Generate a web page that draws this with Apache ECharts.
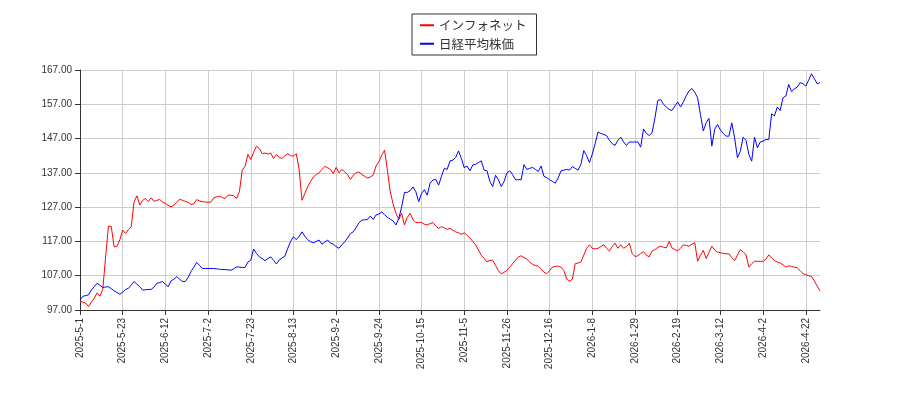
<!DOCTYPE html>
<html><head><meta charset="utf-8">
<script src="https://cdn.jsdelivr.net/npm/echarts@6/dist/echarts.min.js"></script>
<style>html,body{margin:0;padding:0;background:#fff}#c{width:900px;height:400px}</style>
</head><body><div id="c"></div>
<script>
const tickLabels = ["2025-5-1","2025-5-23","2025-6-12","2025-7-2","2025-7-23","2025-8-13","2025-9-2","2025-9-24","2025-10-15","2025-11-5","2025-11-26","2025-12-16","2026-1-8","2026-1-29","2026-2-19","2026-3-12","2026-4-2","2026-4-22"];
const infonet = [
99.7,99.3,99,98,99.3,100.4,102,101,103,112.5,121.5,121.3,115.4,115.6,117.5,
120.3,119.3,120.5,121.3,128.6,130.3,127.6,129,129.5,128.6,129.7,128.7,129,129.2,128.5,
128.1,127.5,127.1,127.6,128.5,129.3,129,128.7,128.4,127.8,128,129.2,128.8,128.6,128.5,
128.4,128.5,129.7,130,130.2,129.8,129.5,130.5,130.5,130.3,129.5,131.5,137.8,138.9,142.4,
140.9,143,144.8,144.1,142.6,142.8,142.5,142.8,141.2,142.3,141.5,141.2,142,142.6,142,
141.9,142.6,138,129,131,133,134.5,135.8,136.5,137,138,138.9,138.5,138,136.8,
138.6,137,138,137.3,136.5,135.1,136.3,137,137.3,136.5,136,135.5,135.8,136.3,139,
140.2,142.1,143.6,137.8,131.5,128,125.2,123.4,125.2,121.8,124,125.2,123.3,122.5,122.5,
122.5,122,121.8,122.2,122.5,121.5,120.8,121.3,121,120.5,120.8,120.3,119.8,119.5,119.1,
119.5,118.8,118,117,116,114.5,113,112,111,111.5,111.5,110,108.5,107.5,108,
108.5,109.5,110.5,111.5,112.5,112.8,112.3,111.8,111,110.3,110,109.8,109,108,107.6,
108.5,109.5,109.7,109.8,109.5,108.5,106,105.4,106,110.5,110.7,111,113,115,116,
115,114.8,115,115.5,116,115,114.2,115.5,116.5,115,116,115,115.5,116.5,113.5,
112.6,112.8,113.5,114,113,112.5,114.2,114.6,115.3,115.6,115.3,115.1,117,115.1,114.6,
114.3,115,116,115.8,115.6,116.2,116.6,111.2,113,114.4,112,113.8,115.6,114.5,113.9,
113.7,113.5,113.4,113.4,112.3,111.4,113,114.6,114,113.1,109.5,110.5,111.2,111.2,111.2,
111.2,111.8,113.1,112.2,111.4,111,110.7,110.2,109.5,109.9,109.7,109.5,109.3,108.5,107.6,
107.3,107,106.8,105.5,104,102.6];
const nikkei = [
99.9,101,101.2,101.4,102.8,103.8,104.8,104.2,103.6,103.7,103.8,103.2,102.6,102.1,101.6,
102.2,103,103.3,104.3,105.3,104.5,103.8,102.8,102.9,103,103,103.7,104.8,105,105.3,
104.5,103.8,105.5,106,106.7,106,105.3,105.3,106.5,108.2,109.5,110.9,110,109.1,109.1,
109.1,109.1,109.1,109,108.9,108.8,108.8,108.7,108.6,109,109.6,109.5,109.4,109.4,111,
111.5,114.8,113.5,112.5,112,111.4,112,112.5,111.5,110.4,111.6,112.2,112.7,115,117,
118.4,117.5,118.5,119.8,118.5,117.5,116.9,116.6,117,117.4,116.2,116.8,117.4,116.5,116.2,
115.5,115,116,116.9,118,119.3,119.8,121,122.4,123.2,123.3,123.4,124.4,123.4,124.7,
125,125.6,124.8,124,123.5,123,121.8,123.7,127,131.3,131.3,131.8,132.9,131.5,128.6,
131,132.1,130.5,134,134.9,135.1,133.4,136,138.3,138,140.5,140.7,141.5,143.4,141.2,
138.5,139,137.6,139.3,139.5,140,140.5,137.8,137.6,134.5,133,136.3,135,133,134.5,
137,137.6,136.5,135,135,135,139.4,138,138.3,138.6,138,137.4,139,136,135.6,
135,134.5,134,135.5,137.6,137.8,138,137.8,138.8,138.3,137.8,139.5,143.5,142,140,
142.5,145.5,148.9,148.5,148.2,147.9,146.5,145.5,145,146.5,147.4,146,145,146,146,
146,146,144.5,149.8,148.5,147.9,148.7,153,158.1,158.4,157,156.2,155.5,155.2,156.5,
157.7,156.2,157.7,159.5,160.9,161.6,160.5,158.9,154,149.2,151.6,152.9,144.8,149.7,151.1,
149.5,148.5,147.7,147.7,151.6,147.2,141.4,143.3,147.4,146.5,142.4,140.4,147.4,144.3,146,
146.3,146.7,146.7,154.2,153.6,156.2,155.2,158.9,159.4,162.8,160.7,161.5,162,163.3,163,
162.3,164,165.9,164.5,163,163.3];
const categories = infonet.map((_, i) => String(i));
const chart = echarts.init(document.getElementById('c'));
chart.setOption({
  animation: false,
  legend: {
    top: 14, left: 412, orient: 'vertical',
    data: ['インフォネット', '日経平均株価'],
    borderColor: '#333', borderWidth: 1, borderRadius: 0, padding: [5, 10, 5, 8],
    itemWidth: 14, itemHeight: 2, itemGap: 6,
    icon: 'rect',
    textStyle: { fontSize: 12.5, color: '#333', fontFamily: 'Noto Sans CJK JP' }
  },
  grid: { left: 80, right: 80, top: 70, bottom: 90 },
  xAxis: {
    type: 'category', data: categories, boundaryGap: false,
    axisLine: { lineStyle: { color: '#333' } },
    axisTick: { interval: 14, lineStyle: { color: '#333' } },
    splitLine: { show: true, interval: 14, lineStyle: { color: '#ccc' } },
    axisLabel: {
      interval: 14, rotate: 90, fontSize: 10, color: '#333',
      formatter: v => { const i = +v; return i % 15 === 0 && tickLabels[i / 15] ? tickLabels[i / 15] : ''; }
    }
  },
  yAxis: {
    type: 'value', min: 97, max: 167, interval: 10,
    axisLine: { show: true, lineStyle: { color: '#333' } },
    axisTick: { show: true },
    splitLine: { lineStyle: { color: '#ccc' } },
    axisLabel: { fontSize: 10, color: '#333', formatter: v => v.toFixed(2) }
  },
  series: [
    { name: 'インフォネット', type: 'line', data: infonet, symbol: 'none', lineStyle: { color: '#ff0000', width: 1 }, itemStyle: { color: '#ff0000' } },
    { name: '日経平均株価', type: 'line', data: nikkei, symbol: 'none', lineStyle: { color: '#0000ff', width: 1 }, itemStyle: { color: '#0000ff' } }
  ]
});
</script></body></html>
